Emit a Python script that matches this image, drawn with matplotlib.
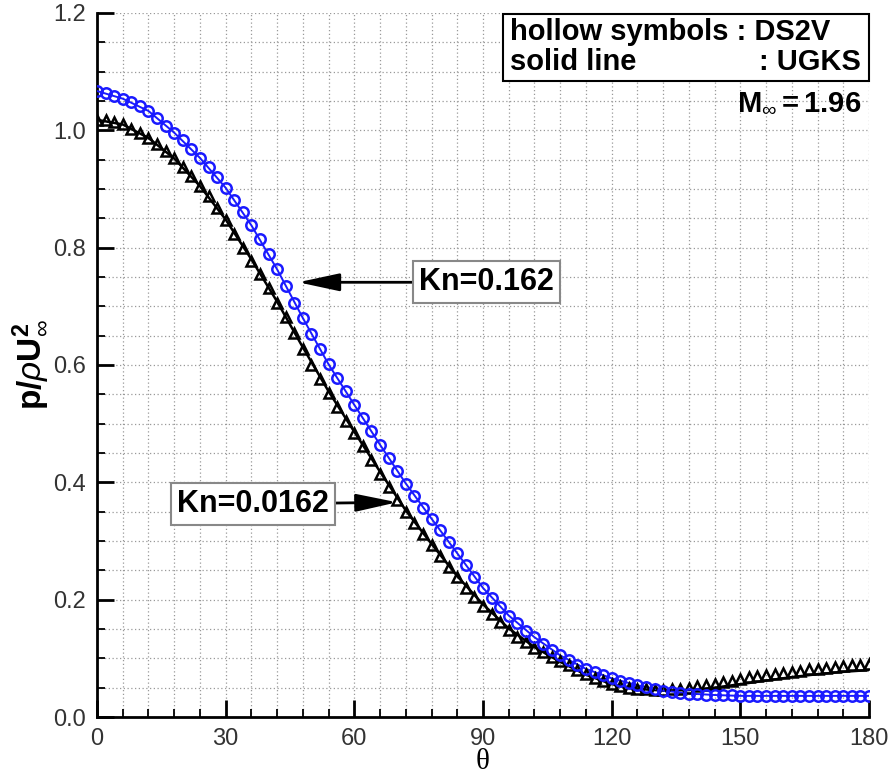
import numpy as np
import matplotlib
matplotlib.use('Agg')
import matplotlib.pyplot as plt
from matplotlib.patches import Rectangle
from matplotlib.ticker import MultipleLocator

plt.rcParams['font.family'] = ['Liberation Sans', 'DejaVu Sans']
plt.rcParams['mathtext.fontset'] = 'custom'
plt.rcParams['mathtext.rm'] = 'Liberation Sans'
plt.rcParams['mathtext.bf'] = 'Liberation Sans:bold'
plt.rcParams['mathtext.it'] = 'Liberation Sans:italic'

# DS2V symbols, every 2 degrees
theta_sym = np.arange(0, 181, 2)
ds2v_kn0162 = [1.018, 1.017, 1.014, 1.010, 1.003, 0.995, 0.987, 0.976, 0.964, 0.952,
               0.937, 0.922, 0.905, 0.888, 0.868, 0.848, 0.824, 0.800, 0.778, 0.755,
               0.731, 0.706, 0.681, 0.655, 0.627, 0.600, 0.576, 0.553, 0.529, 0.505,
               0.484, 0.462, 0.438, 0.415, 0.392, 0.370, 0.350, 0.330, 0.312, 0.294,
               0.275, 0.256, 0.238, 0.220, 0.205, 0.190, 0.176, 0.162, 0.149, 0.137,
               0.127, 0.118, 0.110, 0.102, 0.095, 0.088, 0.080, 0.073, 0.067, 0.062,
               0.057, 0.053, 0.050, 0.048, 0.047, 0.046, 0.046, 0.047, 0.048, 0.050,
               0.052, 0.055, 0.057, 0.060, 0.062, 0.065, 0.068, 0.070, 0.071, 0.073,
               0.075, 0.077, 0.079, 0.081, 0.082, 0.084, 0.085, 0.087, 0.088, 0.089,
               0.090]
ds2v_kn162 = [1.067, 1.063, 1.058, 1.054, 1.049, 1.042, 1.033, 1.021, 1.008, 0.996,
              0.983, 0.968, 0.953, 0.937, 0.920, 0.902, 0.882, 0.861, 0.838, 0.814,
              0.789, 0.763, 0.735, 0.706, 0.680, 0.653, 0.627, 0.601, 0.578, 0.555,
              0.532, 0.509, 0.487, 0.464, 0.442, 0.419, 0.398, 0.377, 0.357, 0.338,
              0.319, 0.299, 0.279, 0.259, 0.239, 0.220, 0.203, 0.187, 0.173, 0.160,
              0.147, 0.136, 0.125, 0.114, 0.105, 0.097, 0.089, 0.082, 0.076, 0.071,
              0.066, 0.062, 0.058, 0.054, 0.051, 0.048, 0.045, 0.043, 0.041, 0.040,
              0.039, 0.038, 0.0375, 0.037, 0.037, 0.036, 0.036, 0.036, 0.036, 0.036,
              0.036, 0.036, 0.036, 0.036, 0.036, 0.036, 0.036, 0.036, 0.036, 0.036,
              0.036]

# UGKS lines, every 6 degrees
theta_line = np.arange(0, 181, 6)
ugks_kn0162 = [1.018, 1.010, 0.987, 0.952, 0.905, 0.848, 0.780, 0.708, 0.630, 0.555,
               0.486, 0.418, 0.352, 0.295, 0.240, 0.192, 0.151, 0.119, 0.094, 0.072,
               0.056, 0.048, 0.045, 0.046, 0.050, 0.056, 0.062, 0.068, 0.073, 0.077,
               0.080]
ugks_kn162 = [1.067, 1.054, 1.033, 0.996, 0.953, 0.902, 0.838, 0.763, 0.680, 0.601,
              0.532, 0.464, 0.398, 0.338, 0.279, 0.220, 0.173, 0.136, 0.105, 0.082,
              0.066, 0.054, 0.045, 0.040, 0.0375, 0.036, 0.036, 0.036, 0.036, 0.036,
              0.036]

blue = '#1a1aff'

fig = plt.figure(figsize=(8.95, 7.8), dpi=100)
ax = fig.add_axes([97/895, 63/780, 772/895, 704/780])

ax.plot(theta_line, ugks_kn0162, color='black', lw=1.8, zorder=3)
ax.plot(theta_sym, ds2v_kn0162, ls='none', marker='^', ms=7.5, mfc='none',
        mec='black', mew=1.8, zorder=4)
ax.plot(theta_line, ugks_kn162, color=blue, lw=1.4, zorder=3)
ax.plot(theta_sym, ds2v_kn162, ls='none', marker='o', ms=7.5, mfc='none',
        mec=blue, mew=1.8, zorder=4)

ax.set_xlim(0, 180)
ax.set_ylim(0, 1.2)
ax.xaxis.set_major_locator(MultipleLocator(30))
ax.xaxis.set_minor_locator(MultipleLocator(6))
ax.yaxis.set_major_locator(MultipleLocator(0.2))
ax.yaxis.set_minor_locator(MultipleLocator(0.05))
ax.yaxis.set_major_formatter(plt.FormatStrFormatter('%.1f'))

ax.grid(which='both', color='#999999', ls=(0, (1, 2)), lw=0.9)
ax.set_axisbelow(True)
for s in ['top', 'right']:
    ax.spines[s].set_visible(False)
for s in ['left', 'bottom']:
    ax.spines[s].set_linewidth(2)
ax.tick_params(which='major', direction='in', length=12, width=2,
               labelsize=17, labelcolor='#333333', pad=8)
ax.tick_params(which='minor', direction='in', length=6, width=1.3)

ax.set_xlabel('θ', fontsize=21, family='Liberation Serif', labelpad=-1)
ax.set_ylabel(r'$\mathbf{p/}\rho\mathbf{U}^{\mathbf{2}}_{\infty}$', fontsize=24, labelpad=2)

# legend-like box, top right
def axfrac(px, py):
    return (px - 97) / 772, (717 - py) / 704

x0, y0 = axfrac(503, 81)
x1, y1 = axfrac(869, 14)
ax.add_patch(Rectangle((x0, y0), x1 - x0, y1 - y0, transform=ax.transAxes,
                       fc='white', ec='black', lw=1.5, zorder=6, clip_on=False))
tx, ty = axfrac(510, 40)
ax.text(tx, ty, 'hollow symbols : DS2V', transform=ax.transAxes, fontsize=21,
        fontweight='bold', va='baseline', ha='left', zorder=7)
tx, ty = axfrac(510, 70)
ax.text(tx, ty, 'solid line', transform=ax.transAxes, fontsize=21,
        fontweight='bold', va='baseline', ha='left', zorder=7)
tx, ty = axfrac(861, 70)
ax.text(tx, ty, ': UGKS', transform=ax.transAxes, fontsize=21,
        fontweight='bold', va='baseline', ha='right', zorder=7)
tx, ty = axfrac(861, 110)
ax.text(tx, ty, r'$\mathbf{M}_{\infty}\mathbf{=1.96}$', transform=ax.transAxes,
        fontsize=21, va='baseline', ha='right', zorder=7)

box = dict(boxstyle='square,pad=0.2', fc='white', ec='#888888', lw=1.5)
arrow = dict(arrowstyle='-|>,head_length=1.4,head_width=0.3', color='black',
             lw=2, mutation_scale=18, shrinkA=0, shrinkB=0)
ax.annotate('Kn=0.162', xy=(46.9, 0.741), xytext=(90.8, 0.741),
            fontsize=22, fontweight='bold', ha='center', va='center',
            bbox=box, arrowprops=arrow, zorder=7)
ax.annotate('Kn=0.0162', xy=(70.0, 0.366), xytext=(36.4, 0.363),
            fontsize=22, fontweight='bold', ha='center', va='center',
            bbox=box, arrowprops=arrow, zorder=7)

fig.savefig('out.png', dpi=100)
